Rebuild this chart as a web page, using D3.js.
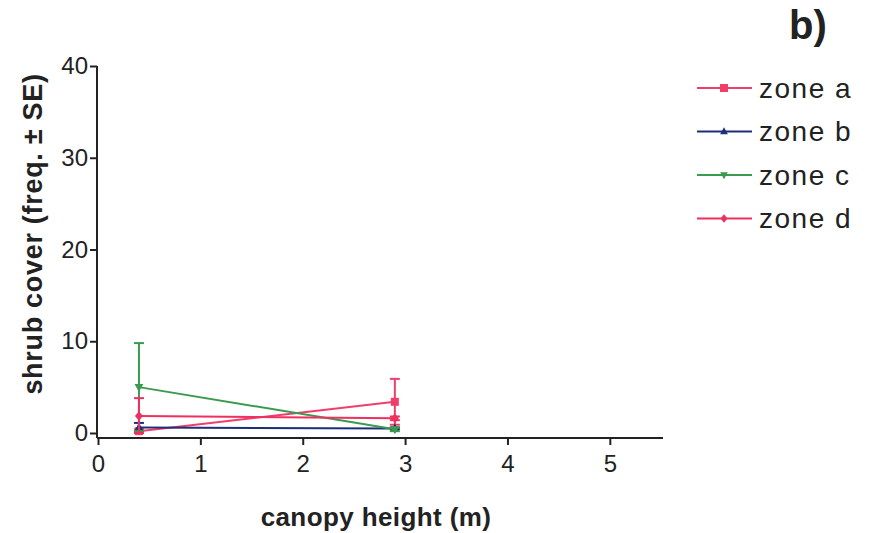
<!DOCTYPE html>
<html><head><meta charset="utf-8">
<script src="https://cdn.jsdelivr.net/npm/d3@7"></script>
<style>body{margin:0;background:#fff}text{font-family:"Liberation Sans",Arial,sans-serif}</style>
</head><body>
<svg id="c" width="871" height="533"></svg>
<script>
// Data
const heights = [0.4, 2.9];
const seriesNames = ["zone a", "zone b", "zone c", "zone d"];
const zoneA = [0.2, 3.4];
const zoneB = [0.6, 0.5];
const zoneC = [5.0, 0.4];
const zoneD = [1.85, 1.6];
const seA = [0.2, 2.5];
const seB = [0.5, 0.1];
const seC = [4.8, 0.2];
const seD = [1.95, 0.2];
const xTicks = [0, 1, 2, 3, 4, 5];
const yTicks = [0, 10, 20, 30, 40];
const colors = ["#f23d6b", "#1c2f78", "#3a9a4e", "#ee2f5f"];
const symbols = ["square", "triangle", "triangleDown", "diamond"];

const series = seriesNames.map((n, i) => ({
  name: n,
  values: [zoneA, zoneB, zoneC, zoneD][i],
  se: [seA, seB, seC, seD][i],
  color: colors[i], symbol: symbols[i]
}));

const svg = d3.select("#c");
const x = d3.scaleLinear().domain([0, 5.5]).range([98, 661]);
const y = d3.scaleLinear().domain([0, 40]).range([433, 66]);

// axes
const gx = svg.append("g").attr("transform", "translate(0,438)")
  .call(d3.axisBottom(x).tickValues(xTicks).tickSize(7).tickPadding(10).tickFormat(d3.format("d")));
const gy = svg.append("g").attr("transform", "translate(97,0)")
  .call(d3.axisLeft(y).tickValues(yTicks).tickSize(7).tickPadding(2).tickFormat(d3.format("d")));
gy.select(".domain").attr("d", "M0,66V438");
[gx, gy].forEach(g => {
  g.selectAll("path,line").attr("stroke", "#222").attr("stroke-width", 2);
  g.selectAll("text").attr("font-size", 24).attr("fill", "#222").attr("font-family", "Liberation Sans, Arial");
});
gx.select(".domain").attr("d", "M97,0H663");

function sym(type, cx, cy, s) {
  if (type === "square") return `M${cx-s},${cy-s}h${2*s}v${2*s}h${-2*s}Z`;
  if (type === "triangle") return `M${cx},${cy-s*1.2}L${cx+s*1.1},${cy+s*0.8}L${cx-s*1.1},${cy+s*0.8}Z`;
  if (type === "triangleDown") return `M${cx},${cy+s*1.2}L${cx+s*1.1},${cy-s*0.8}L${cx-s*1.1},${cy-s*0.8}Z`;
  return `M${cx},${cy-s*1.2}L${cx+s},${cy}L${cx},${cy+s*1.2}L${cx-s},${cy}Z`;
}

const line = d3.line().x((d, i) => x(heights[i])).y(d => y(d));
series.forEach(s => {
  const g = svg.append("g");
  // error bars
  s.values.forEach((v, i) => {
    const cx = x(heights[i]);
    const lo = Math.max(0, v - s.se[i]), hi = v + s.se[i];
    g.append("line").attr("x1", cx).attr("x2", cx).attr("y1", y(lo)).attr("y2", y(hi))
      .attr("stroke", s.color).attr("stroke-width", 2);
    [lo, hi].forEach(e => g.append("line").attr("x1", cx - 5).attr("x2", cx + 5)
      .attr("y1", y(e)).attr("y2", y(e)).attr("stroke", s.color).attr("stroke-width", 2));
  });
  g.append("path").attr("d", line(s.values)).attr("fill", "none").attr("stroke", s.color).attr("stroke-width", 2);
  s.values.forEach((v, i) => g.append("path").attr("d", sym(s.symbol, x(heights[i]), y(v), 4)).attr("fill", s.color));
});

// legend
series.forEach((s, i) => {
  const ly = 88 + i * 43.5;
  svg.append("line").attr("x1", 697).attr("x2", 752).attr("y1", ly).attr("y2", ly)
    .attr("stroke", s.color).attr("stroke-width", 2);
  svg.append("path").attr("d", sym(s.symbol, 724, ly, s.symbol === "square" ? 4 : 3.5)).attr("fill", s.color);
  svg.append("text").attr("x", 759).attr("y", ly).attr("dy", "0.35em")
    .attr("font-size", 28).attr("letter-spacing", 1.5).attr("fill", "#222").text(s.name);
});

// titles
svg.append("text").attr("x", 376).attr("y", 526).attr("text-anchor", "middle")
  .attr("font-size", 26).attr("letter-spacing", 0.4).attr("font-weight", "bold").attr("fill", "#222").text("canopy height (m)");
svg.append("text").attr("transform", "translate(42,234) rotate(-90)").attr("text-anchor", "middle")
  .attr("font-size", 27).attr("letter-spacing", 0.7).attr("font-weight", "bold").attr("fill", "#222").text("shrub cover (freq. ± SE)");
svg.append("text").attr("x", 789).attr("y", 39)
  .attr("font-size", 40).attr("font-weight", "bold").attr("fill", "#222").text("b)");
</script>
</body></html>
